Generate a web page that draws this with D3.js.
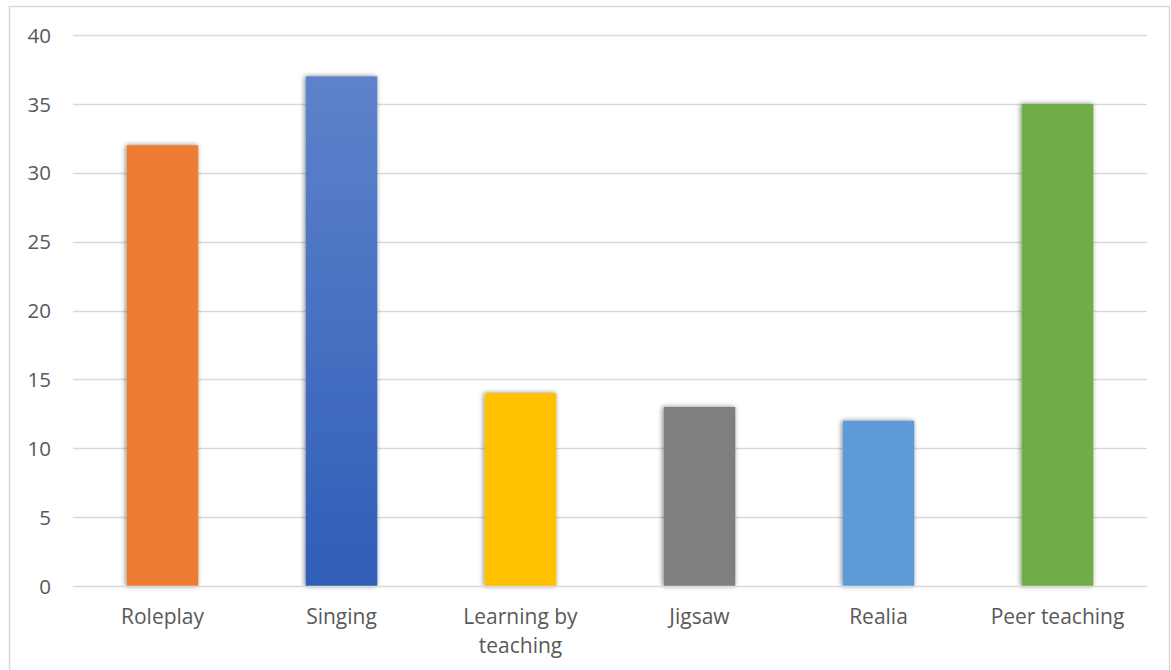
<!DOCTYPE html>
<html><head><meta charset="utf-8">
<script src="https://cdn.jsdelivr.net/npm/d3@7"></script>
<style>body{margin:0;background:#fff;} svg{display:block;} text{font-family:"Open Sans",Lato,sans-serif;}</style>
</head><body>
<svg id="c" width="1171" height="670"></svg>
<script>
const categories = ["Roleplay","Singing","Learning by teaching","Jigsaw","Realia","Peer teaching"];
const labelLines = [["Roleplay"],["Singing"],["Learning by","teaching"],["Jigsaw"],["Realia"],["Peer teaching"]];
const values = [32,37,14,13,12,35];
const colors = ["#ED7D31","url(#gradSing)","#FFC000","#7F7F7F","#5B9BD5","#70AD47"];
const yTicks = [0,5,10,15,20,25,30,35,40];

const svg = d3.select("#c");
const defs = svg.append("defs");
const g1 = defs.append("linearGradient").attr("id","gradSing").attr("x1",0).attr("y1",0).attr("x2",0).attr("y2",1);
g1.append("stop").attr("offset","0%").attr("stop-color","#5E82CA");
g1.append("stop").attr("offset","100%").attr("stop-color","#2F5EB8");
const f = defs.append("filter").attr("id","sh").attr("x","-20%").attr("y","-10%").attr("width","140%").attr("height","120%");
f.append("feGaussianBlur").attr("in","SourceAlpha").attr("stdDeviation",2.5);
f.append("feOffset").attr("dx",-1).attr("dy",0).attr("result","b");
f.append("feComponentTransfer").append("feFuncA").attr("type","linear").attr("slope",0.5);
const m = f.append("feMerge"); m.append("feMergeNode"); m.append("feMergeNode").attr("in","SourceGraphic");

svg.append("rect").attr("x",9.5).attr("y",6.5).attr("width",1160).attr("height",672)
  .attr("fill","#fff").attr("stroke","#d9d9d9").attr("stroke-width",1.5);

const x = d3.scaleBand().domain(categories).range([73,1147]).paddingInner(0.6).paddingOuter(0.3);
const y = d3.scaleLinear().domain([0,40]).range([586,35]);

const grid = svg.append("g");
grid.selectAll("line").data(yTicks.filter(d=>d>0)).join("line")
  .attr("x1",73).attr("x2",1147).attr("y1",d=>Math.round(y(d))+0.5).attr("y2",d=>Math.round(y(d))+0.5)
  .attr("stroke","#d9d9d9").attr("stroke-width",1.3);

const yAxis = d3.axisLeft(y).tickValues(yTicks).tickSize(0).tickPadding(0);
const ya = svg.append("g").attr("transform","translate(51,0)").call(yAxis);
ya.select(".domain").remove();
ya.selectAll("text").attr("font-size",20.5).attr("fill","#595959").attr("font-family","'Open Sans',sans-serif").attr("dy","0.35em");

svg.append("g").selectAll("rect").data(values).join("rect")
  .attr("x",(d,i)=>x(categories[i])).attr("width",x.bandwidth())
  .attr("y",d=>y(d)).attr("height",d=>y(0)-y(d))
  .attr("fill",(d,i)=>colors[i]).attr("filter","url(#sh)");

svg.append("line").attr("x1",73).attr("x2",1147).attr("y1",586.5).attr("y2",586.5).attr("stroke","#d9d9d9").attr("stroke-width",1.5);

const xl = svg.append("g");
categories.forEach((c,i)=>{
  const t = xl.append("text").attr("x",x(c)+x.bandwidth()/2).attr("y",624)
    .attr("text-anchor","middle").attr("font-size",21).attr("fill","#595959");
  labelLines[i].forEach((ln,j)=>t.append("tspan").attr("x",x(c)+x.bandwidth()/2).attr("dy",j?29:0).text(ln));
});
</script>
</body></html>
